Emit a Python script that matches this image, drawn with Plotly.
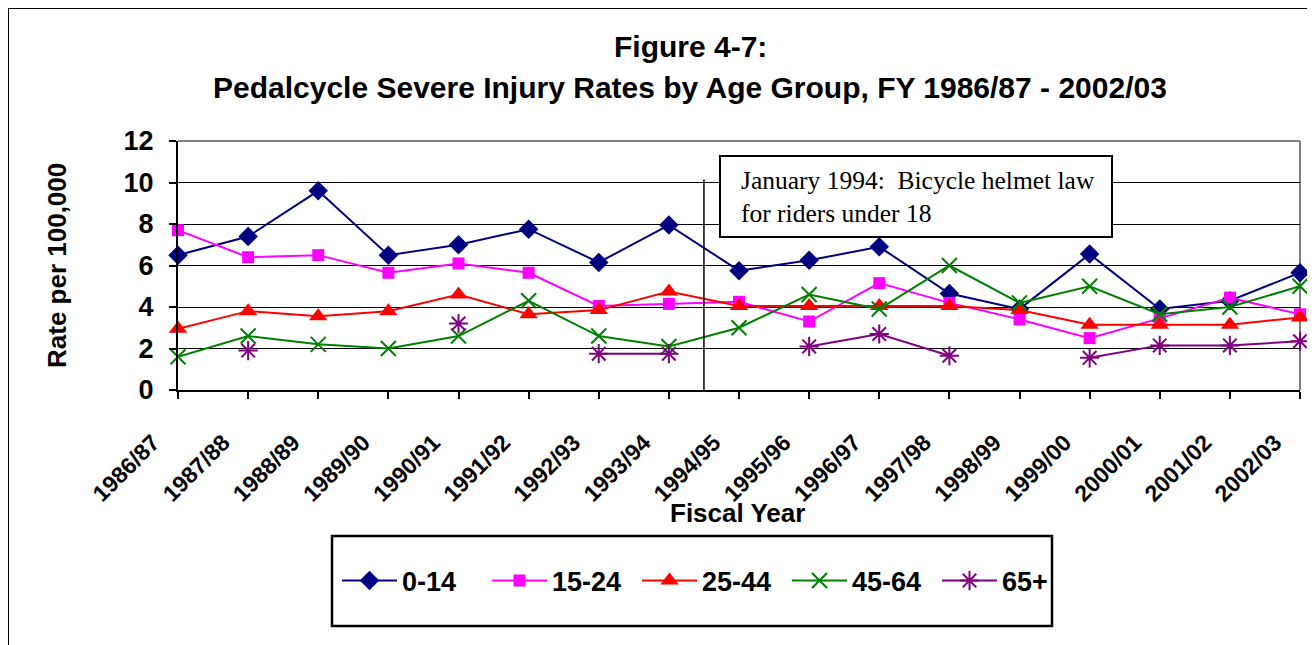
import plotly.graph_objects as go

categories = ["1986/87", "1987/88", "1988/89", "1989/90", "1990/91", "1991/92",
              "1992/93", "1993/94", "1994/95", "1995/96", "1996/97", "1997/98",
              "1998/99", "1999/00", "2000/01", "2001/02", "2002/03"]

age_0_14 = [6.5, 7.4, 9.6, 6.5, 7.0, 7.75, 6.15, 7.95, 5.75, 6.25, 6.9, 4.65,
            3.9, 6.55, 3.9, 4.3, 5.65]
age_15_24 = [7.7, 6.4, 6.5, 5.65, 6.1, 5.65, 4.05, 4.15, 4.25, 3.3, 5.15, 4.2,
             3.4, 2.5, 3.45, 4.45, 3.65]
age_25_44 = [2.95, 3.8, 3.55, 3.8, 4.6, 3.65, 3.85, 4.75, 4.05, 4.05, 4.05, 4.05,
             3.85, 3.15, 3.15, 3.15, 3.5]
age_45_64 = [1.6, 2.6, 2.2, 2.0, 2.6, 4.3, 2.6, 2.1, 3.0, 4.6, 3.9, 6.0,
             4.2, 5.0, 3.65, 4.0, 5.0]
age_65_plus = [None, 1.9, None, None, 3.2, None, 1.75, 1.75, None, 2.1, 2.7, 1.65,
               None, 1.55, 2.15, 2.15, 2.35]

series_names = ["0-14", "15-24", "25-44", "45-64", "65+"]
y_ticks = [0, 2, 4, 6, 8, 10, 12]
helmet_law_position = 7.5   # between 1993/94 and 1994/95
helmet_law_top = 10.15

FONT = "Liberation Sans, Arial, sans-serif"
SERIF = "Liberation Serif, Times New Roman, serif"

# page offset (body margin) and plot area in page pixels
OFF = 8
W, H = 1315 - OFF, 645 - OFF
L, R, T, B = 178, 1300, 141, 390
PW, PH = R - L, B - T


def px(x):
    return (x - L) / PW


def py(y):
    return (B - y) / PH


styles = [
    dict(color="#000080", symbol="diamond", size=15, lw=None),
    dict(color="#FF00FF", symbol="square", size=12, lw=None),
    dict(color="#FF0000", symbol="triangle-up", size=16, lw=None),
    dict(color="#008000", symbol="x-thin-open", size=15, lw=2),
    dict(color="#800080", symbol="asterisk-open", size=16, lw=2),
]

fig = go.Figure()
for name, vals, st in zip(series_names,
                          [age_0_14, age_15_24, age_25_44, age_45_64, age_65_plus], styles):
    marker = dict(color=st["color"], symbol=st["symbol"], size=st["size"])
    if st["lw"]:
        marker["line"] = dict(color=st["color"], width=st["lw"])
    fig.add_trace(go.Scatter(
        x=categories, y=vals, name=name, mode="lines+markers",
        line=dict(color=st["color"], width=2), marker=marker,
        connectgaps=False, cliponaxis=False,
    ))

# plot-area frame (gray top/right)
fig.add_shape(type="line", xref="paper", yref="paper", x0=0, x1=1, y0=1, y1=1,
              line=dict(color="#808080", width=2), layer="above")
fig.add_shape(type="line", xref="paper", yref="paper", x0=1, x1=1, y0=0, y1=1,
              line=dict(color="#808080", width=2), layer="below")

# vertical marker line for the helmet law
fig.add_shape(type="line", xref="x", yref="y",
              x0=helmet_law_position, x1=helmet_law_position, y0=0, y1=helmet_law_top,
              line=dict(color="#000000", width=1.5), layer="above")

# text box
fig.add_shape(type="rect", xref="paper", yref="paper",
              x0=px(720), x1=px(1112), y0=py(237), y1=py(156),
              line=dict(color="#000000", width=2), fillcolor="white", layer="above")
fig.add_annotation(xref="paper", yref="paper", x=px(739), y=py(197),
                   xanchor="left", yanchor="middle", align="left", showarrow=False,
                   text="January 1994:  Bicycle helmet law<br>for riders under 18",
                   font=dict(family=SERIF, size=25.5, color="black"))

# outer chart border
fig.add_shape(type="rect", xref="paper", yref="paper",
              x0=px(8), x1=px(1400), y0=py(700), y1=py(8),
              line=dict(color="#000000", width=2), layer="below")

# legend box
fig.add_shape(type="rect", xref="paper", yref="paper",
              x0=px(332), x1=px(1052), y0=py(626), y1=py(536),
              line=dict(color="#000000", width=2.5), layer="below")

# y-axis title
fig.add_annotation(xref="paper", yref="paper", x=px(57), y=py(266),
                   xanchor="center", yanchor="middle", showarrow=False, textangle=-90,
                   text="<b>Rate per 100,000</b>",
                   font=dict(family=FONT, size=26, color="black"))
# x-axis title
fig.add_annotation(xref="paper", yref="paper", x=px(737), y=py(513),
                   xanchor="center", yanchor="middle", showarrow=False,
                   text="<b>Fiscal Year</b>",
                   font=dict(family=FONT, size=26, color="black"))
# title
fig.add_annotation(xref="paper", yref="paper", x=px(690), y=py(47),
                   xanchor="center", yanchor="middle", showarrow=False,
                   text="<b>Figure 4-7:</b>",
                   font=dict(family=FONT, size=30, color="black"))
fig.add_annotation(xref="paper", yref="paper", x=px(690), y=py(87),
                   xanchor="center", yanchor="middle", showarrow=False,
                   text="<b>Pedalcycle Severe Injury Rates by Age Group, FY 1986/87 - 2002/03</b>",
                   font=dict(family=FONT, size=30, color="black"))

fig.update_layout(
    width=W, height=H,
    margin=dict(l=L - OFF, r=1315 - R, t=T - OFF, b=645 - B, autoexpand=False),
    paper_bgcolor="white", plot_bgcolor="white",
    font=dict(family=FONT, color="black"),
    showlegend=True,
    legend=dict(orientation="h", x=px(337), y=py(581),
                xanchor="left", yanchor="middle",
                font=dict(family=FONT, size=27, color="black", weight="bold"),
                itemwidth=55, entrywidth=80, entrywidthmode="pixels",
                bgcolor="rgba(0,0,0,0)", borderwidth=0,
                traceorder="normal"),
    xaxis=dict(
        type="category", range=[0, 16], categoryorder="array", categoryarray=categories,
        showgrid=False, showline=True, linecolor="black", linewidth=2,
        ticks="outside", ticklen=7, tickwidth=2, tickcolor="black",
        tickangle=-45, ticklabelstandoff=21, ticklabelshift=-25,
        tickfont=dict(family=FONT, size=23, color="black", weight="bold"),
        zeroline=False, automargin=False,
    ),
    yaxis=dict(
        range=[0, 12], tickvals=y_ticks, ticktext=[str(v) for v in y_ticks],
        showgrid=True, gridcolor="black", gridwidth=1,
        showline=True, linecolor="black", linewidth=2,
        ticks="outside", ticklen=7, tickwidth=2, tickcolor="black",
        ticklabelstandoff=10,
        tickfont=dict(family=FONT, size=27, color="black", weight="bold"),
        zeroline=False, automargin=False,
    ),
)

fig.write_html("out.html")
